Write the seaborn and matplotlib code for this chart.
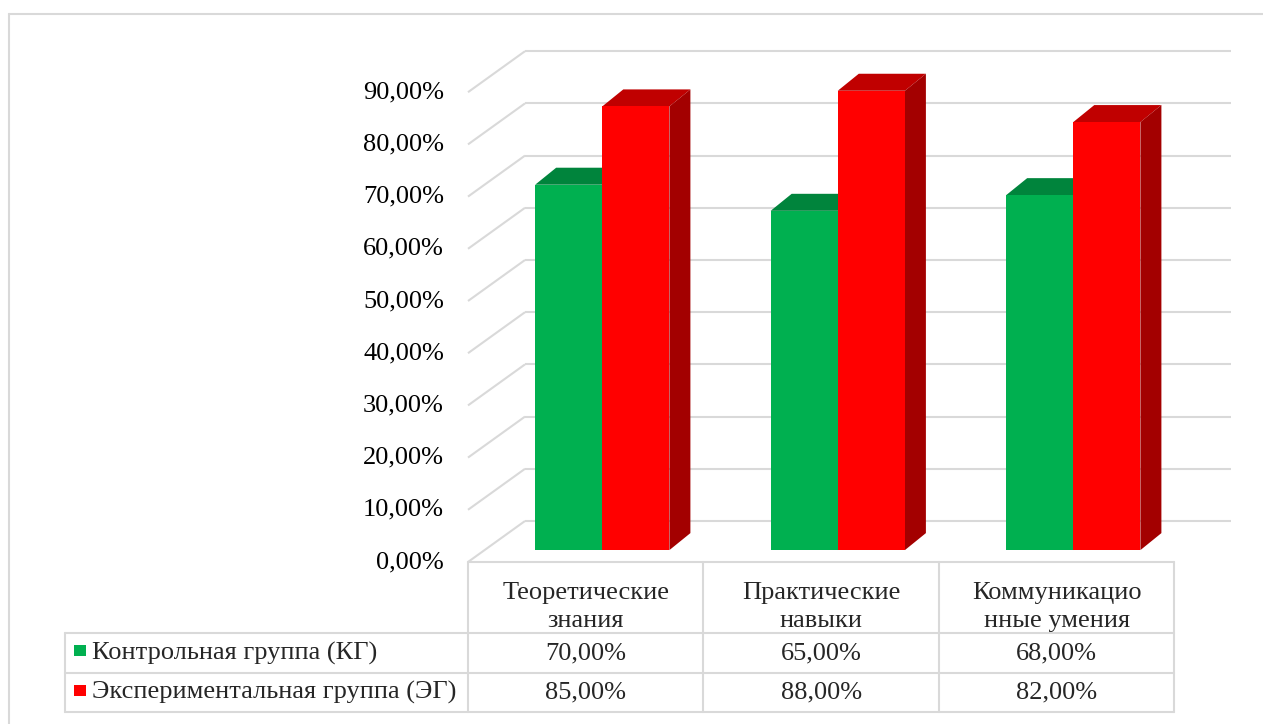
import numpy as np
import pandas as pd
import matplotlib
matplotlib.use('Agg')
import matplotlib.pyplot as plt
import seaborn as sns
from matplotlib.patches import Polygon, Rectangle

# data
categories = ['Теоретические\nзнания', 'Практические\nнавыки', 'Коммуникацио\nнные умения']
groups = ['Контрольная группа (КГ)', 'Экспериментальная группа (ЭГ)']
control = [70.0, 65.0, 68.0]
experimental = [85.0, 88.0, 82.0]
y_ticks = [0, 10, 20, 30, 40, 50, 60, 70, 80, 90]

df = pd.DataFrame({
    'category': categories * 2,
    'group': [groups[0]] * len(categories) + [groups[1]] * len(categories),
    'value': control + experimental,
})

front_colors = ['#00B050', '#FF0000']
top_colors = ['#00843C', '#C00000']
side_colors = ['#007A36', '#A30000']
grid_color = '#D9D9D9'
fs = 19

# pixel layout: front plane origin (left edge of first category, 0% level)
W, H = 1263, 724
x0_px, y0_px = 468, 562
cat_px, pct_px = 235.5, 5.22


def to_data(xp, yp):
    return -0.5 + (xp - x0_px) / cat_px, (y0_px - yp) / pct_px


# oblique depth offsets (data units)
wall_dx, wall_dy = 57 / cat_px, 41 / pct_px
bar_pos = 0.29
sx, sy = bar_pos * wall_dx, bar_pos * wall_dy
bar_dx, bar_dy = 21 / cat_px, 17 / pct_px

sns.set_theme(style='white')
plt.rcParams['font.family'] = ['Liberation Serif', 'DejaVu Serif']

fig = plt.figure(figsize=(W / 100, H / 100), dpi=100)
ax = fig.add_axes([0, 0, 1, 1])

sns.barplot(data=df, x='category', y='value', hue='group', palette=front_colors,
            width=0.57, gap=0, saturation=1, legend=False, edgecolor='none', ax=ax)

# turn flat bars into 3D columns
bars = list(ax.patches)
n = len(categories)
for i, p in enumerate(bars):
    k = i // n
    x, w, h = p.get_x() + sx, p.get_width(), p.get_height()
    p.set_x(x)
    p.set_y(sy)
    p.set_zorder(5 + 2 * k)
    top = sy + h
    ax.add_patch(Polygon([(x, top), (x + w, top), (x + w + bar_dx, top + bar_dy), (x + bar_dx, top + bar_dy)],
                         closed=True, facecolor=top_colors[k], edgecolor='none', zorder=4 + 2 * k))
    ax.add_patch(Polygon([(x + w, sy), (x + w + bar_dx, sy + bar_dy), (x + w + bar_dx, top + bar_dy), (x + w, top)],
                         closed=True, facecolor=side_colors[k], edgecolor='none', zorder=4 + 2 * k))

# walls / gridlines
left, right = -0.5, n - 0.5
label_x = to_data(444, 0)[0]
for v in y_ticks:
    ax.plot([left, left + wall_dx], [v, v + wall_dy], color=grid_color, lw=1.5, zorder=1, solid_capstyle='butt')
    ax.plot([left + wall_dx, right + wall_dx], [v + wall_dy] * 2, color=grid_color, lw=1.5, zorder=1,
            solid_capstyle='butt')
    ax.text(label_x, v, f'{v:.2f}'.replace('.', ',') + '%', ha='right', va='center', fontsize=fs, color='black')

# data table
col_left = to_data(65, 0)[0]
head_bot = to_data(0, 633)[1]
row1_bot = to_data(0, 673)[1]
row2_bot = to_data(0, 712)[1]
tbl = dict(color=grid_color, lw=1.5, zorder=1)
ax.plot([left, right], [0, 0], **tbl)
for yb in [head_bot, row1_bot, row2_bot]:
    ax.plot([col_left, right], [yb, yb], **tbl)
for xv in np.arange(n + 1) - 0.5:
    ax.plot([xv, xv], [0, row2_bot], **tbl)
ax.plot([col_left, col_left], [head_bot, row2_bot], **tbl)

head_y = to_data(0, 607)[1]
row_y = [(head_bot + row1_bot) / 2, (row1_bot + row2_bot) / 2]
for i, cat in enumerate(categories):
    ax.text(i, head_y, cat, ha='center', va='center', fontsize=fs, linespacing=1.3)
    for r, vals in enumerate([control, experimental]):
        ax.text(i, row_y[r], f'{vals[i]:.2f}'.replace('.', ',') + '%', ha='center', va='center', fontsize=fs)

# series keys in the table
sq_x0 = to_data(74, 0)[0]
sq_w = 12 / cat_px
sq_h = 11 / pct_px
text_x = to_data(92, 0)[0]
for r, g in enumerate(groups):
    ax.add_patch(Rectangle((sq_x0, row_y[r] - sq_h / 2 + 0.4), sq_w, sq_h, facecolor=front_colors[r],
                           edgecolor='none', zorder=3))
    ax.text(text_x, row_y[r], g, ha='left', va='center', fontsize=fs)

# chart frame
fx, fy = to_data(9, 14)
ax.plot([fx, to_data(W, 0)[0]], [fy, fy], color=grid_color, lw=1.5, zorder=1)
ax.plot([fx, fx], [fy, to_data(0, H)[1]], color=grid_color, lw=1.5, zorder=1)

ax.set_xlim(to_data(0, 0)[0], to_data(W, 0)[0])
ax.set_ylim(to_data(0, H)[1], to_data(0, 0)[1])
ax.axis('off')

fig.savefig('out.png', dpi=100, facecolor='white')
